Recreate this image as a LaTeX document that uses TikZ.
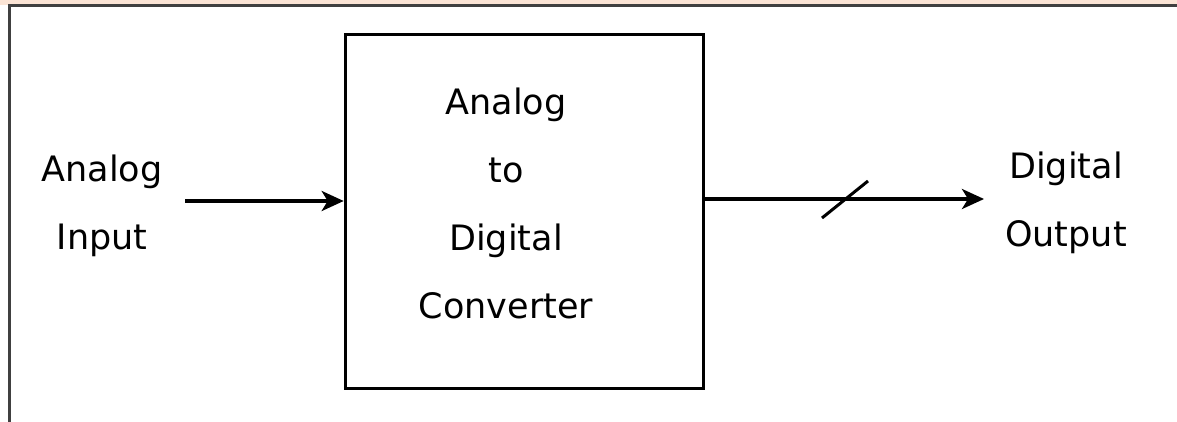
\documentclass[tikz,border=0pt]{standalone}
\usepackage{fontspec}
\setmainfont{DejaVu Sans}
\usetikzlibrary{arrows.meta}
\definecolor{peach}{RGB}{251,228,213}
\definecolor{framegray}{RGB}{64,64,64}
\tikzset{
	label text/.style={font=\fontsize{35}{68}\selectfont,align=center,inner sep=0pt},
	signal/.style={line width=3.6pt,-{Stealth[length=22pt,width=20pt,inset=6pt]}},
}
\begin{document}
\begin{tikzpicture}[x=1pt,y=-1pt]
	\useasboundingbox (0,0) rectangle (1177,422);
	\fill[peach] (0,0) rectangle (1177,5);
	\draw[framegray,line width=3pt] (9.5,422) -- (9.5,6) -- (1177,6);
	\node[draw,line width=3.6pt,minimum width=358pt,minimum height=354pt,inner sep=0pt] (adc) at (524.5,211.5) {};
	\node[label text] (boxtext) at (506,203) {Analog\\to\\Digital\\Converter};
	\node[label text] (ain) at (102,206) {Analog\\Input};
	\node[label text] (dout) at (1066,203) {Digital\\Output};
	\coordinate (instart) at (185,201);
	\coordinate (outend) at (984,199);
	\draw[signal] (instart) -- (instart -| adc.west);
	\draw[signal] (outend -| adc.east) -- (outend);
	\draw[line width=3pt] (822,218) -- (868,181);
\end{tikzpicture}
\end{document}
